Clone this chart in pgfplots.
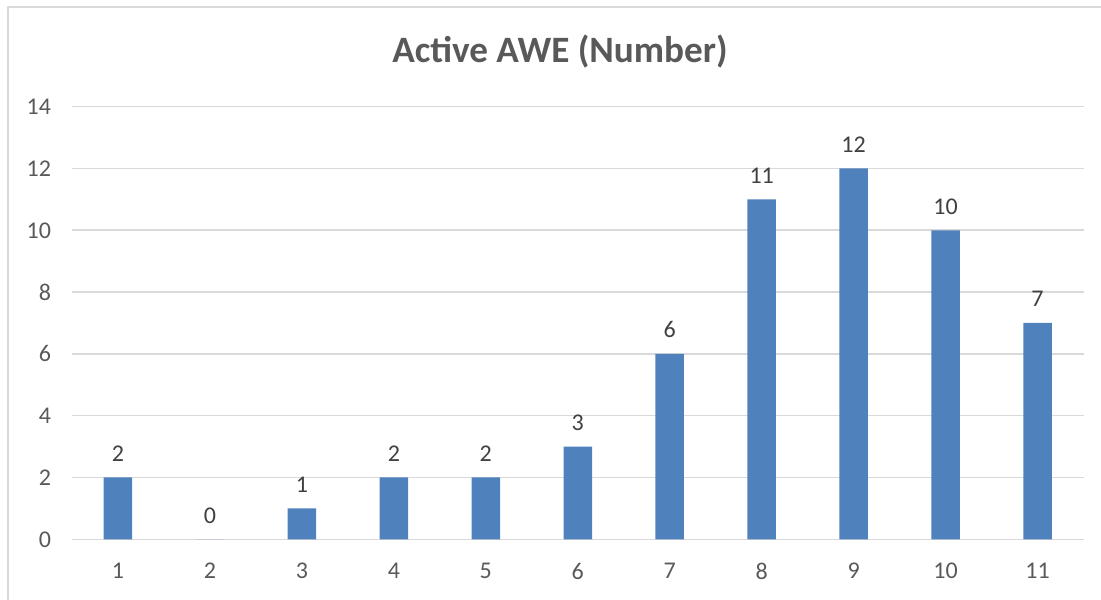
\documentclass[border=0pt]{standalone}
\usepackage{fontspec}
\setmainfont{Carlito}
\usepackage{pgfplots}
\pgfplotsset{compat=1.18}
\definecolor{barblue}{HTML}{4F81BD}
\definecolor{gridgray}{HTML}{D9D9D9}
\definecolor{ticktext}{HTML}{595959}
\definecolor{labeltext}{HTML}{404040}
\begin{document}
\begin{tikzpicture}
\useasboundingbox (0,0) rectangle (550.5pt,299.5pt);
% chart frame (only left and top edges fall inside the picture)
\draw[gridgray, line width=0.8pt] (4pt,-5pt) -- (4pt,296pt) -- (560pt,296pt);
\node[font=\fontsize{18.6}{20}\selectfont\bfseries, text=ticktext] at (280pt,273.5pt) {Active AWE (Number)};
\begin{axis}[
  at={(36pt,29.85pt)}, anchor=south west,
  scale only axis,
  width=505.75pt, height=216.3pt,
  ybar, bar width=14.25pt,
  xmin=0.5, xmax=11.5,
  ymin=0, ymax=14,
  xtick={1,...,11},
  ytick={0,2,...,14},
  axis line style={draw=none},
  ymajorgrids,
  grid style={gridgray, line width=0.8pt},
  major tick length=0pt,
  /pgf/number format/assume math mode=true,
  ticklabel style={font=\fontsize{12}{14}\selectfont, text=ticktext},
  yticklabel style={xshift=-7pt},
  xticklabel style={yshift=-8.5pt},
  nodes near coords,
  nodes near coords style={font=\fontsize{12}{14}\selectfont, text=labeltext, yshift=4.5pt},
]
\addplot[fill=barblue, draw=none] coordinates {
  (1,2) (2,0) (3,1) (4,2) (5,2) (6,3) (7,6) (8,11) (9,12) (10,10) (11,7)
};
\end{axis}
\end{tikzpicture}
\end{document}
